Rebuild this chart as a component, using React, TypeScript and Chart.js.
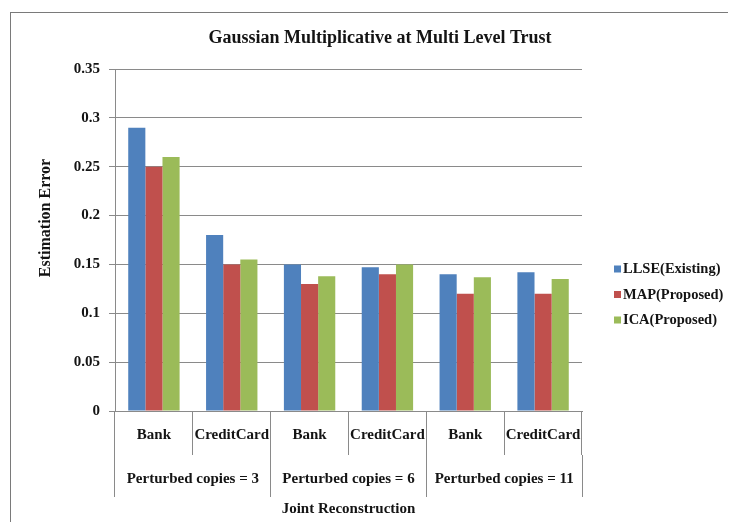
import React, { useEffect, useRef } from "react";
import { Chart, registerables } from "chart.js";

Chart.register(...registerables);

const categories = ["Bank", "CreditCard", "Bank", "CreditCard", "Bank", "CreditCard"];
const groupLabels = ["Perturbed copies = 3", "Perturbed copies = 6", "Perturbed copies = 11"];
const seriesNames = ["LLSE(Existing)", "MAP(Proposed)", "ICA(Proposed)"];
const llseValues = [0.29, 0.18, 0.15, 0.147, 0.14, 0.142];
const mapValues = [0.25, 0.15, 0.13, 0.14, 0.12, 0.12];
const icaValues = [0.26, 0.155, 0.138, 0.15, 0.137, 0.135];
const yTickLabels = ["0", "0.05", "0.1", "0.15", "0.2", "0.25", "0.3", "0.35"];
const chartTitle = "Gaussian Multiplicative at Multi Level Trust";
const yTitle = "Estimation Error";
const xTitle = "Joint Reconstruction";

const colors = ["#4F81BD", "#C0504D", "#9BBB59"];
const FONT = "'Liberation Serif', 'Times New Roman', serif";
const GRID = "#8a8a8a";
const TEXT = "#141414";

const legendPlugin = {
  id: "sideLegend",
  afterDraw(chart: any) {
    const ctx = chart.ctx;
    const x0 = 614;
    const y0 = 269;
    const gap = 25.5;
    ctx.save();
    ctx.font = `bold 14.5px ${FONT}`;
    ctx.textBaseline = "middle";
    ctx.textAlign = "left";
    chart.data.datasets.forEach((ds: any, i: number) => {
      const y = y0 + i * gap;
      ctx.fillStyle = ds.backgroundColor;
      ctx.fillRect(x0, y - 3.5, 7, 7);
      ctx.fillStyle = TEXT;
      ctx.fillText(ds.label, x0 + 9, y + 0.5);
    });
    ctx.restore();
  },
};

export default function App() {
  const canvasRef = useRef<HTMLCanvasElement | null>(null);

  useEffect(() => {
    if (!canvasRef.current) return;
    const chart = new Chart(canvasRef.current, {
      type: "bar",
      data: {
        labels: categories,
        datasets: [llseValues, mapValues, icaValues].map((vals, i) => ({
          label: seriesNames[i],
          data: vals,
          backgroundColor: colors[i],
          borderWidth: 0,
          categoryPercentage: 0.66,
          barPercentage: 1.0,
          xAxisID: "x",
          yAxisID: "y",
        })),
      },
      options: {
        responsive: false,
        animation: false,
        layout: { padding: { top: 12, left: 24, right: 0, bottom: 11 } },
        plugins: {
          legend: { display: false },
          tooltip: { enabled: false },
          title: {
            display: true,
            text: chartTitle,
            color: TEXT,
            font: { family: FONT, size: 18, weight: "bold" },
            padding: { top: 16, bottom: 19.4 },
          },
        },
        scales: {
          x: {
            type: "category",
            position: "bottom",
            offset: true,
            grid: {
              offset: true,
              drawOnChartArea: false,
              tickLength: 44,
              color: GRID,
              lineWidth: 1,
            },
            border: { display: true, color: GRID, width: 1 },
            ticks: {
              color: TEXT,
              font: { family: FONT, size: 15, weight: "bold" },
              padding: -29,
              maxRotation: 0,
              minRotation: 0,
              autoSkip: false,
            },
            afterFit: (scale: any) => {
              scale.height = 44;
            },
          },
          x2: {
            type: "category",
            position: "bottom",
            labels: groupLabels,
            offset: true,
            grid: {
              offset: true,
              drawOnChartArea: false,
              tickLength: 42,
              color: GRID,
              lineWidth: 1,
            },
            border: { display: false },
            ticks: {
              color: TEXT,
              font: { family: FONT, size: 15, weight: "bold" },
              padding: -27,
              maxRotation: 0,
              minRotation: 0,
              autoSkip: false,
            },
            title: {
              display: true,
              text: xTitle,
              color: TEXT,
              font: { family: FONT, size: 15, weight: "bold" },
              padding: { top: 0, bottom: 1 },
            },
            afterFit: (scale: any) => {
              scale.height = 64;
            },
          },
          y: {
            type: "linear",
            position: "left",
            min: 0,
            max: 0.35,
            grid: { color: GRID, lineWidth: 1, tickLength: 6, drawTicks: true },
            border: { display: true, color: GRID, width: 1 },
            ticks: {
              stepSize: 0.05,
              padding: 9,
              color: TEXT,
              font: { family: FONT, size: 15, weight: "bold" },
              callback: (_v: any, index: number) => yTickLabels[index],
            },
            title: {
              display: true,
              text: "           " + yTitle,
              color: TEXT,
              font: { family: FONT, size: 16, weight: "bold" },
              padding: { top: 12.4, bottom: 0 },
            },
            afterFit: (scale: any) => {
              scale.width = 91;
            },
          },
          legendSpace: {
            type: "linear",
            position: "right",
            display: true,
            grid: { display: false, drawOnChartArea: false, drawTicks: false },
            border: { display: false },
            ticks: { display: false },
            afterFit: (scale: any) => {
              scale.width = 154;
            },
          },
        },
      } as any,
      plugins: [legendPlugin],
    });
    return () => chart.destroy();
  }, []);

  return (
    <div
      style={{
        position: "relative",
        width: 736,
        height: 530,
        margin: -8,
        overflow: "hidden",
        background: "#fff",
      }}
    >
      <div
        style={{
          position: "absolute",
          left: 10,
          top: 12,
          width: 800,
          height: 600,
          border: "1px solid #7a7a7a",
          boxSizing: "border-box",
        }}
      />
      <canvas
        ref={canvasRef}
        width={736}
        height={530}
        style={{ position: "absolute", left: 0, top: 0, width: 736, height: 530 }}
      />
    </div>
  );
}
